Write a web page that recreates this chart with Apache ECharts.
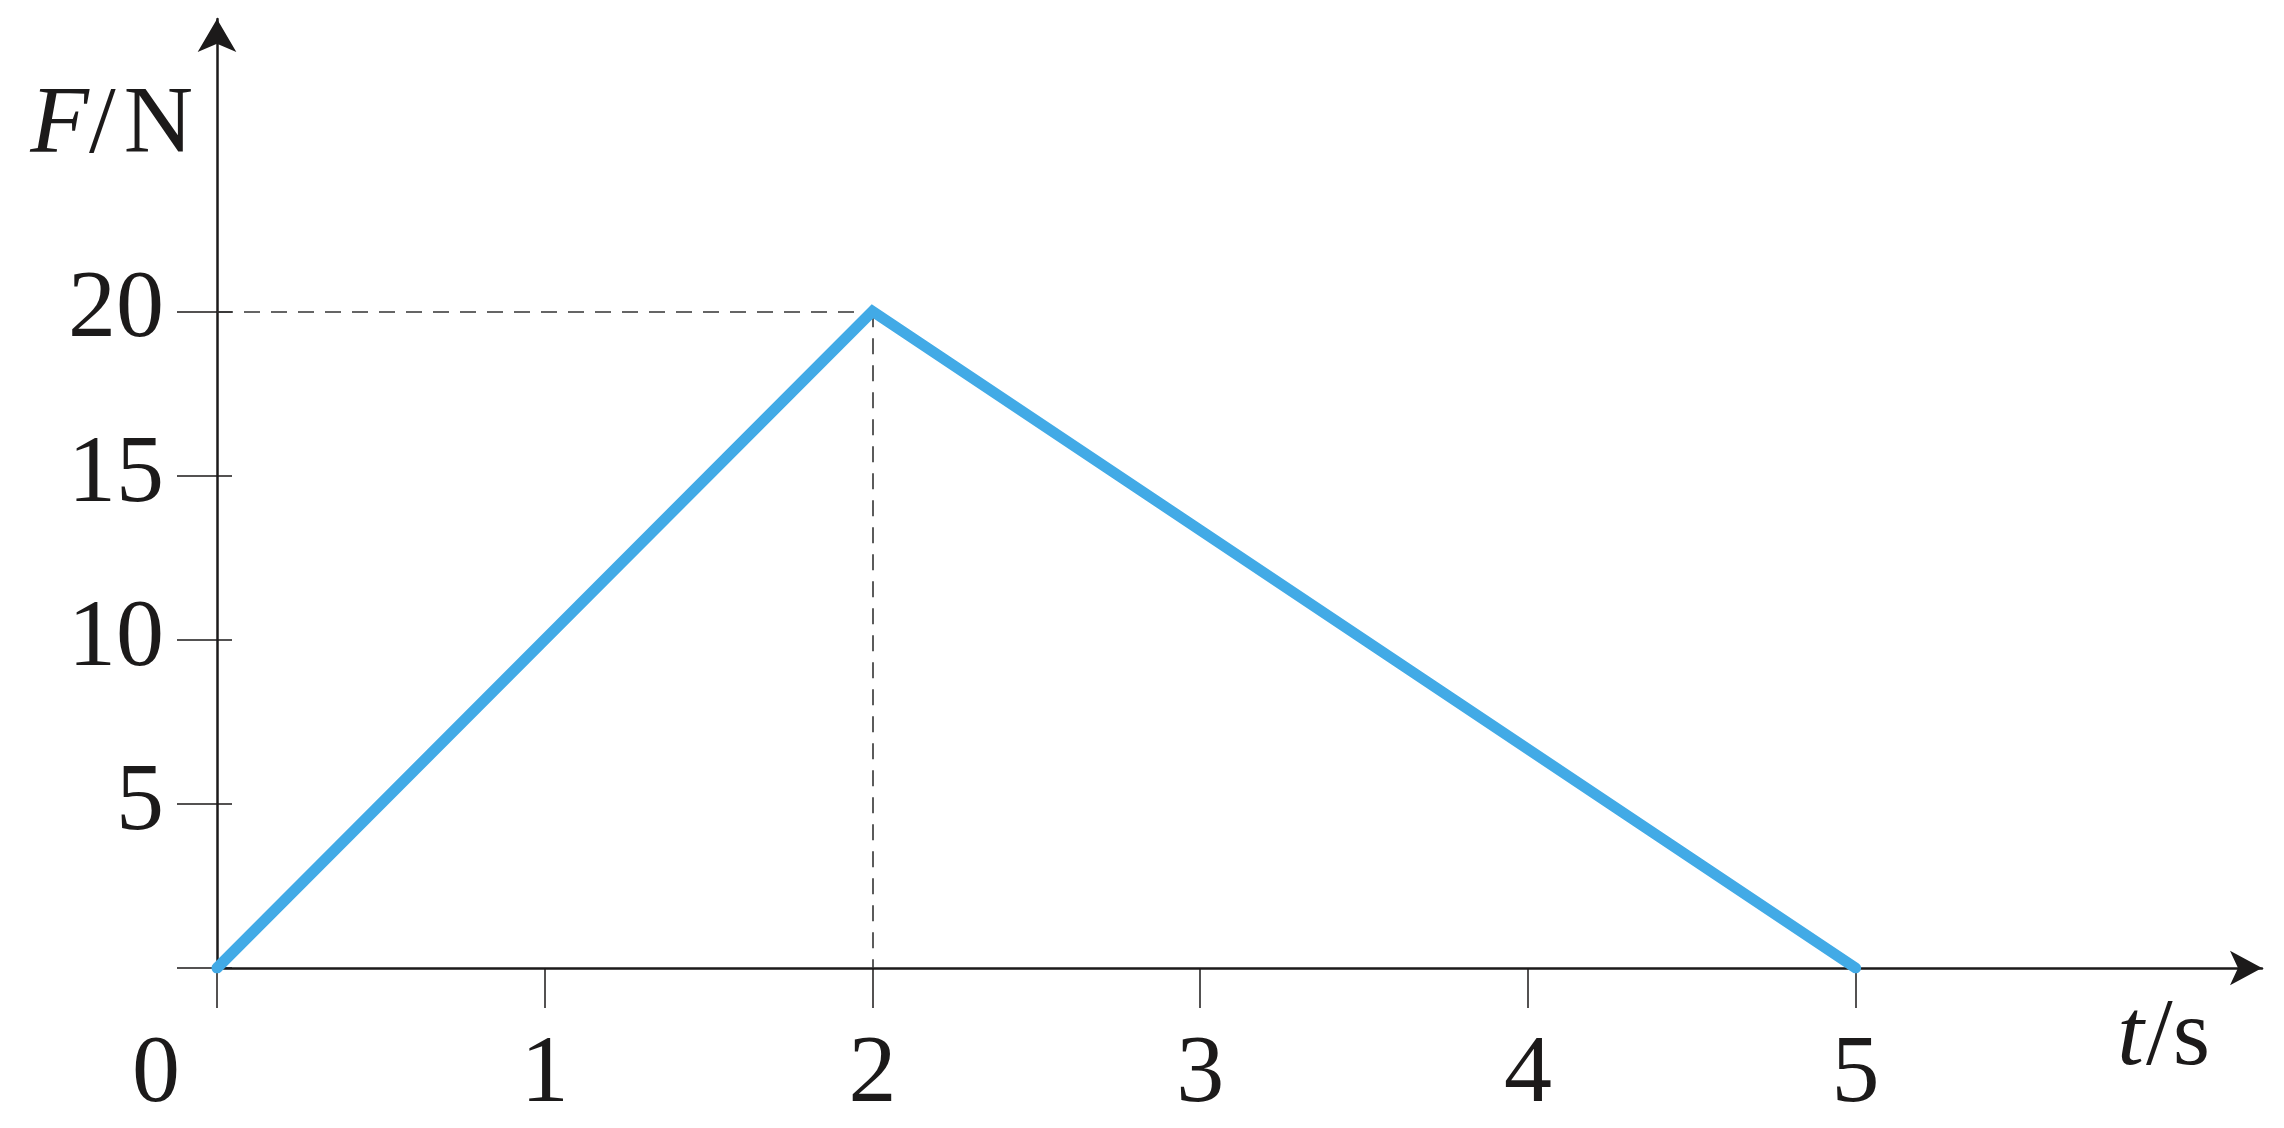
<!DOCTYPE html>
<html>
<head>
<meta charset="utf-8">
<script src="https://cdn.jsdelivr.net/npm/echarts@6/dist/echarts.min.js"></script>
<style>
  html, body { margin: 0; padding: 0; background: #fff; }
  #chart { width: 2284px; height: 1128px; }
</style>
</head>
<body>
<div id="chart"></div>
<script>
// datos del grafico F-t
const tiempos = [0, 2, 5];
const fuerzas = [0, 20, 0];
const ticksX = [0, 1, 2, 3, 4, 5];
const ticksY = [0, 5, 10, 15, 20];
const etiquetasY = [5, 10, 15, 20];
const pico = [2, 20];

const serif = '"Liberation Serif", "DejaVu Serif", serif';
const negro = '#1c1a1a';
const tam = 96;

let myChart = echarts.init(document.getElementById('chart'));
const option = {
  animation: false,
  backgroundColor: '#fff',
  grid: {
    left: 217,
    right: 22,
    top: 19,
    bottom: 160,
    containLabel: false
  },
  xAxis: {
    type: 'value',
    min: 0,
    max: 6.24,
    interval: 1,
    splitLine: { show: false },
    axisLine: {
      show: true,
      symbol: ['none', 'arrow'],
      symbolSize: [26, 32],
      lineStyle: { color: negro, width: 2.5 }
    },
    axisTick: {
      show: true,
      customValues: ticksX,
      length: 40,
      lineStyle: { color: negro, width: 1.5 }
    },
    axisLabel: {
      customValues: ticksX,
      margin: 60,
      color: negro,
      fontFamily: serif,
      fontSize: tam,
      formatter: (v) => v === 0 ? '{cero|0}' : String(v),
      rich: {
        cero: { fontFamily: serif, fontSize: tam, color: negro, padding: [0, 122, 0, 0] }
      }
    },
    name: '{i|t}{b|/}s',
    nameLocation: 'end',
    nameGap: -52,
    nameTextStyle: {
      color: negro,
      fontFamily: serif,
      fontSize: tam,
      align: 'right',
      verticalAlign: 'middle',
      padding: [142, 0, 0, 0],
      rich: {
        i: { fontFamily: serif, fontSize: tam, fontStyle: 'italic', color: negro },
        b: { fontFamily: serif, fontSize: tam, color: negro, padding: [0, 0, 0, 2] }
      }
    }
  },
  yAxis: [
    {
      type: 'value',
      min: 0,
      max: 28.9,
      interval: 5,
      splitLine: { show: false },
      axisLine: {
        show: true,
        symbol: ['none', 'arrow'],
        symbolSize: [29, 33],
        lineStyle: { color: negro, width: 2.5 }
      },
      axisTick: {
        show: true,
        customValues: ticksY,
        length: 40,
        lineStyle: { color: negro, width: 1.5 }
      },
      axisLabel: {
        customValues: etiquetasY,
        margin: 53,
        color: negro,
        fontFamily: serif,
        fontSize: tam
      },
      name: '{i|F}{b|/}N',
      nameLocation: 'end',
      nameGap: -108,
      nameTextStyle: {
        color: negro,
        fontFamily: serif,
        fontSize: tam,
        align: 'right',
        verticalAlign: 'middle',
        padding: [0, 24, 0, 0],
        rich: {
          i: { fontFamily: serif, fontSize: tam, fontStyle: 'italic', color: negro },
          b: { fontFamily: serif, fontSize: tam, color: negro, padding: [0, 8, 0, 0] }
        }
      }
    },
    {
      // parte interior de las marcas del eje vertical
      type: 'value',
      position: 'left',
      min: 0,
      max: 28.9,
      interval: 5,
      splitLine: { show: false },
      axisLine: { show: false },
      axisLabel: { show: false },
      axisTick: {
        show: true,
        inside: true,
        customValues: ticksY,
        length: 15,
        lineStyle: { color: negro, width: 1.5 }
      }
    }
  ],
  series: [
    {
      type: 'line',
      data: tiempos.map((t, i) => [t, fuerzas[i]]),
      showSymbol: false,
      lineStyle: { color: '#42aae6', width: 11, join: 'miter', cap: 'round' },
      z: 5,
      markLine: {
        silent: true,
        symbol: ['none', 'none'],
        label: { show: false },
        lineStyle: { color: '#333', type: [16, 11], width: 1.6 },
        data: [
          [{ coord: [0, pico[1]] }, { coord: pico }],
          [{ coord: pico }, { coord: [pico[0], 0] }]
        ]
      }
    }
  ]
};
myChart.setOption(option);
</script>
</body>
</html>
